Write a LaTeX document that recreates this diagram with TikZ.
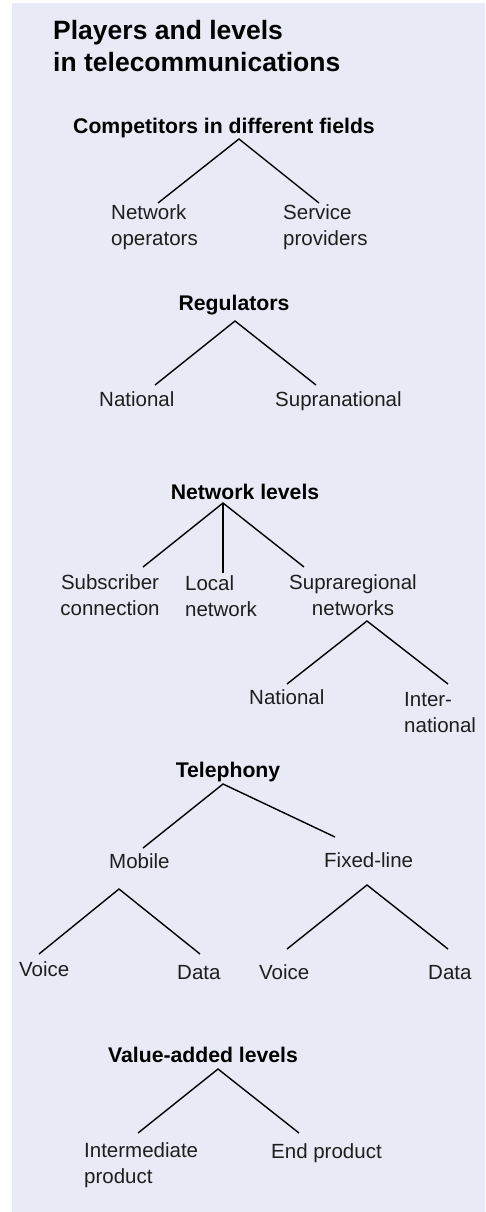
\documentclass[tikz,border=0pt]{standalone}
\usepackage{fontspec}
\setmainfont{Liberation Sans}
\definecolor{bgpanel}{RGB}{232,234,246}
\definecolor{txt}{RGB}{30,30,30}
\tikzset{
  title/.style={inner sep=0pt, align=left, font=\fontsize{26.5}{32}\selectfont\bfseries, text=black},
  head/.style={inner sep=0pt, font=\fontsize{21.2}{25}\selectfont\bfseries, text=black},
  leaf/.style={inner sep=0pt, font=\fontsize{20.5}{26}\selectfont, text=txt},
  conn/.style={draw=black, line width=1.4pt, line join=miter, line cap=butt}
}
\begin{document}
\begin{tikzpicture}[x=1pt,y=-1pt]
\useasboundingbox (0,0) rectangle (485,1212);
\fill[bgpanel] (12,3) rectangle (485,1212);

% title (base anchor = baseline of last line)
\node[title, anchor=base west] (ttl) at (53,72) {Players and levels\\in telecommunications};

% Competitors
\node[head, anchor=base] (comp) at (224,133) {Competitors in different fields};
\coordinate (c0) at (239,139);
\coordinate (c1) at (158,203);
\coordinate (c2) at (319,203);
\node[leaf, anchor=base west, align=left] (netop) at (111,245) {Network\\operators};
\node[leaf, anchor=base west, align=left] (servp) at (283,245) {Service\\providers};
\draw[conn] (c1) -- (c0) -- (c2);

% Regulators
\node[head, anchor=base] (reg) at (234,310) {Regulators};
\coordinate (r0) at (235,321);
\coordinate (r1) at (155,385);
\coordinate (r2) at (316,385);
\node[leaf, anchor=base west] (rnat) at (99,406) {National};
\node[leaf, anchor=base west] (rsup) at (275,406) {Supranational};
\draw[conn] (r1) -- (r0) -- (r2);

% Network levels
\node[head, anchor=base] (netl) at (245,499) {Network levels};
\coordinate (n0) at (223,503);
\coordinate (n1) at (143,567);
\coordinate (n2) at (223,573);
\coordinate (n3) at (304,567);
\node[leaf, anchor=base, align=center] (subc) at (110,615) {Subscriber\\connection};
\node[leaf, anchor=base west, align=left] (locn) at (185,616) {Local\\network};
\node[leaf, anchor=base, align=center] (supr) at (353,615) {Supraregional\\networks};
\draw[conn] (n1) -- (n0) -- (n3);
\draw[conn] (n0) -- (n2);
\coordinate (s0) at (367,621);
\coordinate (s1) at (287,684);
\coordinate (s2) at (448,684);
\node[leaf, anchor=base west] (snat) at (249,704) {National};
\node[leaf, anchor=base west, align=left] (sint) at (404,732) {Inter-\\national};
\draw[conn] (s1) -- (s0) -- (s2);

% Telephony
\node[head, anchor=base] (tel) at (228,777) {Telephony};
\coordinate (t0) at (223,784);
\coordinate (t1) at (143,848);
\coordinate (t2) at (335,837);
\node[leaf, anchor=base west] (mob) at (109,868) {Mobile};
\node[leaf, anchor=base west] (fix) at (324,867) {Fixed-line};
\draw[conn] (t1) -- (t0) -- (t2);
\coordinate (m0) at (119,889);
\coordinate (m1) at (39,954);
\coordinate (m2) at (200,954);
\node[leaf, anchor=base west] (mvoi) at (19,976) {Voice};
\node[leaf, anchor=base west] (mdat) at (177,979) {Data};
\draw[conn] (m1) -- (m0) -- (m2);
\coordinate (f0) at (367,885);
\coordinate (f1) at (287,949);
\coordinate (f2) at (448,949);
\node[leaf, anchor=base west] (fvoi) at (259,979) {Voice};
\node[leaf, anchor=base west] (fdat) at (428,979) {Data};
\draw[conn] (f1) -- (f0) -- (f2);

% Value-added levels
\node[head, anchor=base] (val) at (203,1062) {Value-added levels};
\coordinate (v0) at (218,1069);
\coordinate (v1) at (138,1133);
\coordinate (v2) at (299,1133);
\node[leaf, anchor=base west, align=left] (inter) at (84,1183) {Intermediate\\product};
\node[leaf, anchor=base west] (endp) at (271,1158) {End product};
\draw[conn] (v1) -- (v0) -- (v2);
\end{tikzpicture}
\end{document}
